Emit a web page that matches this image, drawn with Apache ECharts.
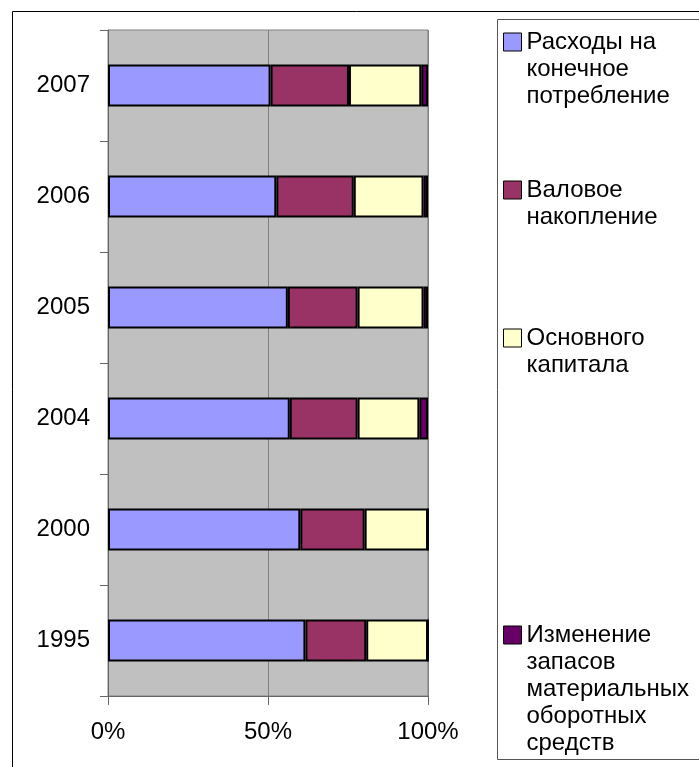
<!DOCTYPE html>
<html>
<head>
<meta charset="utf-8">
<script src="https://cdn.jsdelivr.net/npm/echarts@6/dist/echarts.min.js"></script>
<style>
  html, body { margin: 0; padding: 0; background: #fff; }
  #chart { width: 699px; height: 767px; }
</style>
</head>
<body>
<div id="chart"></div>
<script>
// years, bottom to top
const years = ['1995', '2000', '2004', '2005', '2006', '2007'];

const seriesNames = [
    'Расходы на конечное потребление',
    'Валовое накопление',
    'Основного капитала',
    'Изменение запасов материальных оборотных средств'
];

// how the legend breaks each name
const legendLines = [
    ['Расходы на', 'конечное', 'потребление'],
    ['Валовое', 'накопление'],
    ['Основного', 'капитала'],
    ['Изменение', 'запасов', 'материальных', 'оборотных', 'средств']
];

// shares in %
const consumption = [61.7, 60.1, 56.8, 56.2, 52.6, 50.8];
const grossAccum  = [19.0, 20.1, 21.2, 21.8, 24.2, 24.5];
const fixedCap    = [19.3, 19.8, 19.3, 20.6, 21.8, 22.6];
const inventories = [0, 0, 2.7, 1.4, 1.4, 2.1];

const xTicks = [0, 50, 100];

const colors = ['#9999FF', '#993366', '#FFFFCC', '#660066'];
const seriesData = [consumption, grossAccum, fixedCap, inventories];

const FONT = "'Liberation Sans', Arial, sans-serif";
const LINE_H = 27;
const ICON = 18;
const iconTops = [33, 181, 329, 626];

const chart = echarts.init(document.getElementById('chart'), null, { renderer: 'canvas' });

// one legend per series so each block can sit where Excel put it;
// blank lines in front keep the icon level with the first text line
const legends = seriesNames.map(function(name, i) {
    const n = legendLines[i].length;
    const text = '\n'.repeat(n - 1) + legendLines[i].join('\n');
    return {
        data: [name],
        orient: 'vertical',
        left: 503,
        top: iconTops[i] + ICON / 2 - (2 * n - 1) * LINE_H / 2,
        padding: 0,
        icon: 'rect',
        itemWidth: ICON,
        itemHeight: ICON,
        selectedMode: false,
        itemStyle: { borderColor: '#000', borderWidth: 1 },
        formatter: function() { return text; },
        textStyle: {
            fontFamily: FONT,
            fontSize: 24,
            color: '#000',
            lineHeight: LINE_H
        }
    };
});

const option = {
    animation: false,
    backgroundColor: '#fff',
    graphic: [
        { type: 'rect', shape: { x: 12.5, y: 11.5, width: 720, height: 800 },
          style: { fill: 'none', stroke: '#000', lineWidth: 1 }, silent: true },
        { type: 'rect', shape: { x: 497.5, y: 19.5, width: 220, height: 740 },
          style: { fill: 'none', stroke: '#555', lineWidth: 1 }, silent: true }
    ],
    legend: legends,
    grid: {
        left: 108, right: 271, top: 30, bottom: 71,
        show: true,
        backgroundColor: '#C0C0C0',
        borderColor: '#808080',
        borderWidth: 1
    },
    xAxis: {
        type: 'value',
        min: xTicks[0],
        max: xTicks[xTicks.length - 1],
        interval: xTicks[1] - xTicks[0],
        axisLine: { show: true, lineStyle: { color: '#666', width: 1 } },
        axisTick: { show: true, length: 9, lineStyle: { color: '#666' } },
        splitLine: { show: true, lineStyle: { color: '#808080', width: 1 } },
        axisLabel: {
            formatter: '{value}%',
            fontFamily: FONT,
            fontSize: 24,
            color: '#000',
            margin: 24
        }
    },
    yAxis: {
        type: 'category',
        data: years,
        axisLine: { show: true, lineStyle: { color: '#666', width: 1 } },
        axisTick: { show: true, length: 8, lineStyle: { color: '#666' } },
        splitLine: { show: false },
        axisLabel: {
            fontFamily: FONT,
            fontSize: 24,
            color: '#000',
            margin: 18
        }
    },
    series: seriesNames.map(function(name, i) {
        return {
            name: name,
            type: 'bar',
            stack: 'total',
            barWidth: 42,
            data: seriesData[i],
            itemStyle: { color: colors[i], borderColor: '#000', borderWidth: 2 }
        };
    })
};

chart.setOption(option);
</script>
</body>
</html>
